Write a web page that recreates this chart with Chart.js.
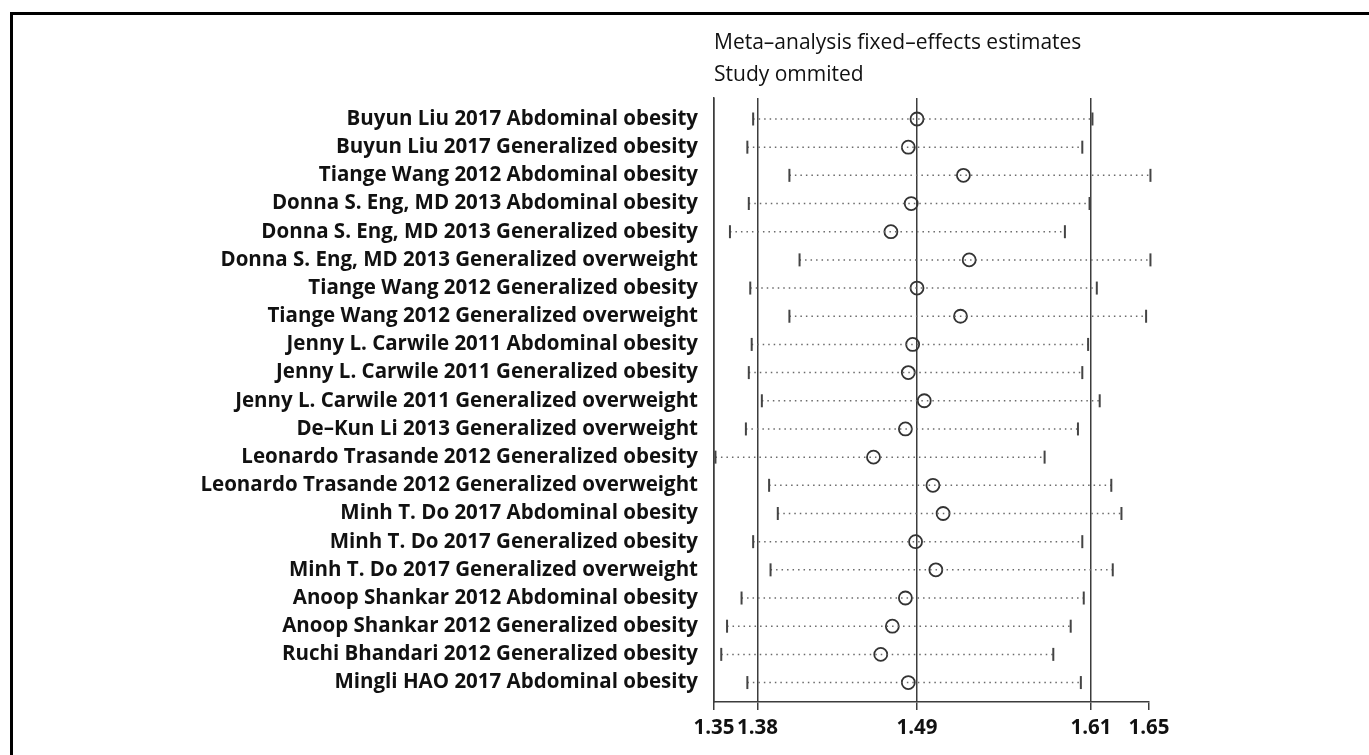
<!DOCTYPE html>
<html lang="en">
<head>
  <meta charset="UTF-8">
  <title>Meta-analysis sensitivity</title>
  <script src="https://cdn.jsdelivr.net/npm/chart.js"></script>
  <style>
    body { margin: 0; background: #fff; }
    #frame {
      position: absolute;
      left: 10px;
      top: 12px;
      width: 1356px;
      height: 740px;
      border-left: 3px solid #000;
      border-top: 3px solid #000;
    }
    #forestChart { display: block; }
  </style>
</head>
<body>
  <div id="frame">
    <canvas id="forestChart" width="1356" height="740"></canvas>
  </div>

  <script>
    const studies = [
      'Buyun Liu 2017 Abdominal obesity',
      'Buyun Liu 2017 Generalized obesity',
      'Tiange Wang 2012 Abdominal obesity',
      'Donna S. Eng, MD 2013 Abdominal obesity',
      'Donna S. Eng, MD 2013 Generalized obesity',
      'Donna S. Eng, MD 2013 Generalized overweight',
      'Tiange Wang 2012 Generalized obesity',
      'Tiange Wang 2012 Generalized overweight',
      'Jenny L. Carwile 2011 Abdominal obesity',
      'Jenny L. Carwile 2011 Generalized obesity',
      'Jenny L. Carwile 2011 Generalized overweight',
      'De\u2013Kun Li 2013 Generalized overweight',
      'Leonardo Trasande 2012 Generalized obesity',
      'Leonardo Trasande 2012 Generalized overweight',
      'Minh T. Do 2017 Abdominal obesity',
      'Minh T. Do 2017 Generalized obesity',
      'Minh T. Do 2017 Generalized overweight',
      'Anoop Shankar 2012 Abdominal obesity',
      'Anoop Shankar 2012 Generalized obesity',
      'Ruchi Bhandari 2012 Generalized obesity',
      'Mingli HAO 2017 Abdominal obesity'
    ];

    const estimates = [1.490, 1.484, 1.522, 1.486, 1.472, 1.526, 1.490, 1.520, 1.487, 1.484, 1.495,
                       1.482, 1.460, 1.501, 1.508, 1.489, 1.503, 1.482, 1.473, 1.465, 1.484];
    const lowerCI   = [1.377, 1.373, 1.402, 1.374, 1.361, 1.409, 1.375, 1.402, 1.376, 1.374, 1.383,
                       1.372, 1.351, 1.388, 1.394, 1.377, 1.389, 1.369, 1.359, 1.355, 1.373];
    const upperCI   = [1.611, 1.604, 1.651, 1.609, 1.592, 1.651, 1.614, 1.648, 1.608, 1.604, 1.616,
                       1.601, 1.578, 1.624, 1.631, 1.604, 1.625, 1.605, 1.596, 1.584, 1.603];

    const xTicks = [1.35, 1.38, 1.49, 1.61, 1.65];
    const titleLines = ['Meta\u2013analysis fixed\u2013effects estimates', 'Study ommited'];

    // one dotted segment per study, NaN points break the line between rows
    const ciPoints = [];
    studies.forEach((s, i) => {
      ciPoints.push({ x: lowerCI[i], y: i + 1 });
      ciPoints.push({ x: upperCI[i], y: i + 1 });
      ciPoints.push({ x: NaN, y: NaN });
    });
    const estPoints = estimates.map((v, i) => ({ x: v, y: i + 1 }));

    const ink = '#3c3c3c';

    const ctx = document.getElementById('forestChart').getContext('2d');
    const forestChart = new Chart(ctx, {
      type: 'scatter',
      data: {
        datasets: [
          {
            label: 'CI',
            data: ciPoints,
            showLine: true,
            spanGaps: false,
            clip: false,
            borderColor: '#6a6a6a',
            borderWidth: 1.5,
            borderDash: [1.5, 4],
            pointStyle: 'line',
            rotation: 90,
            pointRadius: 6.5,
            pointHoverRadius: 6.5,
            pointBorderColor: '#444',
            pointBorderWidth: 2
          },
          {
            label: 'Estimate',
            data: estPoints,
            clip: false,
            pointStyle: 'circle',
            pointRadius: 6.5,
            pointHoverRadius: 6.5,
            pointBackgroundColor: 'rgba(0,0,0,0)',
            pointBorderColor: '#333',
            pointBorderWidth: 1.8
          }
        ]
      },
      options: {
        responsive: false,
        animation: false,
        layout: { padding: { left: 0, right: 220, top: 0, bottom: 13 } },
        plugins: {
          legend: { display: false },
          tooltip: { enabled: false },
          title: {
            display: true,
            text: titleLines,
            align: 'start',
            fullSize: false,
            color: '#111',
            font: { family: 'Open Sans', size: 21, weight: '400', lineHeight: '32px' },
            padding: { top: 12, bottom: 7 }
          }
        },
        scales: {
          x: {
            type: 'linear',
            min: 1.35,
            max: 1.65,
            afterBuildTicks: axis => { axis.ticks = xTicks.map(v => ({ value: v })); },
            afterFit: scale => { scale.height = 40; },
            grid: {
              color: c => (c.tick && c.tick.value === 1.65 ? 'rgba(0,0,0,0)' : ink),
              lineWidth: 1.5,
              drawTicks: true,
              tickLength: 8,
              tickColor: ink,
              tickWidth: 1.5
            },
            border: { display: true, color: ink, width: 1.5 },
            ticks: {
              autoSkip: false,
              maxRotation: 0,
              padding: 6,
              color: '#111',
              font: { family: 'Open Sans', size: 20.5, weight: '700' },
              callback: v => v.toFixed(2)
            }
          },
          y: {
            type: 'linear',
            reverse: true,
            min: 0.255,
            max: 21.69,
            afterBuildTicks: axis => { axis.ticks = studies.map((s, i) => ({ value: i + 1 })); },
            afterFit: scale => { scale.width = 701; },
            grid: { display: false, drawTicks: false },
            border: { display: true, color: ink, width: 1.5 },
            ticks: {
              autoSkip: false,
              padding: 16,
              color: '#111',
              font: { family: 'Open Sans', size: 20.5, weight: '700' },
              callback: (v, i) => studies[i]
            }
          }
        }
      }
    });
  </script>
</body>
</html>
